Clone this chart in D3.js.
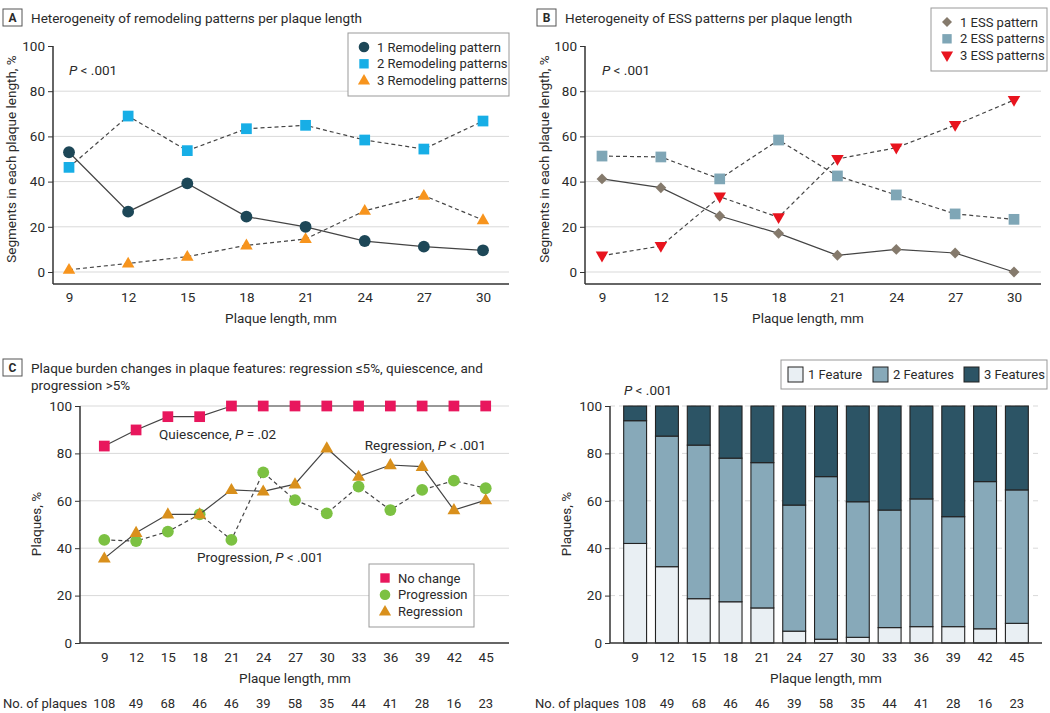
<!DOCTYPE html>
<html><head><meta charset="utf-8">
<script src="https://cdn.jsdelivr.net/npm/d3@7"></script>
<style>
body{margin:0;background:#fff;}
svg text{font-family:Roboto,"Noto Sans",sans-serif;fill:#2a2a2a;}
</style></head>
<body><svg id="c" width="1050" height="713"></svg>
<script>
// ---------- DATA ----------
const lengthsAB = [9,12,15,18,21,24,27,30];
const remod1 = [53,26.7,39.2,24.5,20,13.7,11.2,9.6];
const remod2 = [46.3,69,53.7,63.4,64.9,58.4,54.4,66.8];
const remod3 = [1,3.8,6.8,11.8,14.6,27.1,33.8,23];
const ess1 = [41.2,37.3,24.8,17.1,7.4,10,8.4,0];
const ess2 = [51.3,50.9,41.2,58.4,42.5,34.1,25.7,23.3];
const ess3 = [7.2,11.5,33.3,24.2,50,55,65,76.1];
const lengthsCD = [9,12,15,18,21,24,27,30,33,36,39,42,45];
const noChange = [83.1,89.9,95.5,95.5,100,100,100,100,100,100,100,100,100];
const progression = [43.5,43,47,54.3,43.5,72,60.3,54.7,66,56.1,64.6,68.5,65.3];
const regression = [35.7,46.5,54.3,54.3,64.6,64,67,82.2,70.2,75.1,74.4,56.1,60.3];
const feature1 = [42,32.2,18.7,17.4,14.8,5,1.6,2.4,6.5,6.9,6.9,6,8.3];
const feature2 = [51.8,55.1,64.8,60.6,61.3,53.2,68.6,57.2,49.6,53.9,46.4,62.1,56.3];
const feature3 = [6.2,12.7,16.5,22,23.9,41.8,29.8,40.4,43.9,39.2,46.7,31.9,35.4];
const nPlaques = [108,49,68,46,46,39,58,35,44,41,28,16,23];
const yTicks = [0,20,40,60,80,100];

const svg = d3.select("#c");
const FS = 13.5;
const LFS = 13;

function panelLabel(x,y,letter,lines){
  svg.append("rect").attr("x",x).attr("y",y).attr("width",19).attr("height",17)
    .attr("fill","#fff").attr("stroke","#555").attr("stroke-width",1);
  svg.append("text").attr("x",x+9.5).attr("y",y+13).attr("text-anchor","middle")
    .attr("font-size",12).attr("font-weight","bold").attr("fill","#222").text(letter);
  lines.forEach((l,i)=>svg.append("text").attr("x",x+28).attr("y",y+13.5+i*17)
    .attr("font-size",13.5).attr("fill","#222").text(l));
}

function symbolPath(type,size){
  return d3.symbol().type(type).size(size)();
}
function drawMarker(g,type,x,y,color,size){
  if(type==="circle"){ g.append("circle").attr("cx",x).attr("cy",y).attr("r",Math.sqrt(size/Math.PI)).attr("fill",color); return; }
  if(type==="square"){ const s=Math.sqrt(size); g.append("rect").attr("x",x-s/2).attr("y",y-s/2).attr("width",s).attr("height",s).attr("fill",color); return; }
  if(type==="triangle"){ g.append("path").attr("d",symbolPath(d3.symbolTriangle,size)).attr("transform",`translate(${x},${y+0.5})`).attr("fill",color); return; }
  if(type==="down"){ g.append("path").attr("d",symbolPath(d3.symbolTriangle,size)).attr("transform",`translate(${x},${y-0.5}) rotate(180)`).attr("fill",color); return; }
  if(type==="diamond"){ g.append("path").attr("d",symbolPath(d3.symbolDiamond2,size)).attr("transform",`translate(${x},${y})`).attr("fill",color); return; }
}

function yAxis(x0,x1,y,gridFrom,gridDash,top100grid){
  const g = svg.append("g");
  yTicks.forEach(t=>{
    if(t>=gridFrom && (t<100 || top100grid)){
      g.append("line").attr("x1",x0).attr("x2",x1).attr("y1",y(t)).attr("y2",y(t))
        .attr("stroke","#d9d9d9").attr("stroke-width",1).attr("stroke-dasharray",gridDash||null);
    }
  });
  const ax = svg.append("g").attr("transform",`translate(${x0},0)`)
    .call(d3.axisLeft(y).tickValues(yTicks).tickSize(5).tickPadding(3));
  ax.select(".domain").remove();
  ax.selectAll("line").attr("stroke","#333");
  ax.selectAll("text").attr("font-size",FS).attr("fill","#2a2a2a").style("font-family","Roboto,sans-serif");
  return ax;
}

function series(g,xs,vals,x,y,type,color,size,dashed){
  const line = d3.line().x((d,i)=>x(xs[i])).y(d=>y(d));
  g.append("path").attr("d",line(vals)).attr("fill","none").attr("stroke","#444")
    .attr("stroke-width",1.2).attr("stroke-dasharray",dashed?"4,3":null);
  vals.forEach((v,i)=>drawMarker(g,type,x(xs[i]),y(v),color,size));
}

function legendBox(x,y,w,h,items){
  svg.append("rect").attr("x",x).attr("y",y).attr("width",w).attr("height",h)
    .attr("fill","#fff").attr("stroke","#999").attr("stroke-width",1);
  const g=svg.append("g");
  items.forEach((it,i)=>{
    const cy = y+14+i*16.8;
    drawMarker(g,it.type,x+16,cy,it.color,it.size*0.8);
    g.append("text").attr("x",x+29).attr("y",cy+4.5).attr("font-size",LFS).attr("fill","#222").text(it.label);
  });
}

function pLabel(x,y,txt){
  const t=svg.append("text").attr("x",x).attr("y",y).attr("font-size",FS).attr("fill","#222");
  t.append("tspan").attr("font-style","italic").text("P");
  t.append("tspan").text(txt);
}

// ---------- PANEL A ----------
{
  panelLabel(3,9,"A",["Heterogeneity of remodeling patterns per plaque length"]);
  const x=d3.scaleLinear().domain([9,30]).range([69,483]);
  const y=d3.scaleLinear().domain([0,100]).range([272,46]);
  yAxis(53,509,y,0,null,false);
  svg.append("line").attr("x1",53).attr("x2",53).attr("y1",46).attr("y2",284).attr("stroke","#333").attr("stroke-width",1.5);
  const xa=svg.append("g").attr("transform","translate(0,284)").call(d3.axisBottom(x).tickValues(lengthsAB).tickSize(0).tickPadding(8));
  xa.select(".domain").attr("d","M53,0H509").attr("stroke","#333").attr("stroke-width",1.5);
  xa.selectAll("text").attr("font-size",FS).attr("fill","#2a2a2a");
  svg.append("text").attr("x",281).attr("y",323).attr("text-anchor","middle").attr("font-size",FS).text("Plaque length, mm");
  svg.append("text").attr("transform","translate(16,159) rotate(-90)").attr("text-anchor","middle").attr("font-size",FS).text("Segments in each plaque length, %");
  pLabel(69,75," < .001");
  const g=svg.append("g");
  series(g,lengthsAB,remod3,x,y,"triangle","#f7941d",68,true);
  series(g,lengthsAB,remod2,x,y,"square","#17aee6",115,true);
  series(g,lengthsAB,remod1,x,y,"circle","#1d4757",110,false);
  legendBox(348,33,161,63,[
    {type:"circle",color:"#1d4757",size:110,label:"1 Remodeling pattern"},
    {type:"square",color:"#17aee6",size:110,label:"2 Remodeling patterns"},
    {type:"triangle",color:"#f7941d",size:80,label:"3 Remodeling patterns"}]);
}

// ---------- PANEL B ----------
{
  panelLabel(537,9,"B",["Heterogeneity of ESS patterns per plaque length"]);
  const x=d3.scaleLinear().domain([9,30]).range([602,1014]);
  const y=d3.scaleLinear().domain([0,100]).range([272,46]);
  yAxis(585,1041,y,0,null,false);
  svg.append("line").attr("x1",585).attr("x2",585).attr("y1",46).attr("y2",284).attr("stroke","#333").attr("stroke-width",1.5);
  const xa=svg.append("g").attr("transform","translate(0,284)").call(d3.axisBottom(x).tickValues(lengthsAB).tickSize(0).tickPadding(8));
  xa.select(".domain").attr("d","M585,0H1041").attr("stroke","#333").attr("stroke-width",1.5);
  xa.selectAll("text").attr("font-size",FS).attr("fill","#2a2a2a");
  svg.append("text").attr("x",808).attr("y",323).attr("text-anchor","middle").attr("font-size",FS).text("Plaque length, mm");
  svg.append("text").attr("transform","translate(549,159) rotate(-90)").attr("text-anchor","middle").attr("font-size",FS).text("Segments in each plaque length, %");
  pLabel(602,75," < .001");
  const g=svg.append("g");
  series(g,lengthsAB,ess2,x,y,"square","#7fa6b6",115,true);
  series(g,lengthsAB,ess3,x,y,"down","#e8141e",68,true);
  series(g,lengthsAB,ess1,x,y,"diamond","#857a6c",75,false);
  legendBox(931,8,116,63,[
    {type:"diamond",color:"#857a6c",size:80,label:"1 ESS pattern"},
    {type:"square",color:"#7fa6b6",size:110,label:"2 ESS patterns"},
    {type:"down",color:"#e8141e",size:80,label:"3 ESS patterns"}]);
}

// ---------- PANEL C ----------
{
  panelLabel(3,359,"C",["Plaque burden changes in plaque features: regression \u22645%, quiescence, and","progression >5%"]);
  const x=d3.scaleLinear().domain([9,45]).range([104.3,485.7]);
  const y=d3.scaleLinear().domain([0,100]).range([643,406]);
  yAxis(80,509,y,20,null,true);
  svg.append("line").attr("x1",80).attr("x2",80).attr("y1",406).attr("y2",643).attr("stroke","#333").attr("stroke-width",1.5);
  const xa=svg.append("g").attr("transform","translate(0,643)").call(d3.axisBottom(x).tickValues(lengthsCD).tickSize(0).tickPadding(9));
  xa.select(".domain").attr("d","M80,0H509").attr("stroke","#333").attr("stroke-width",1.5);
  xa.selectAll("text").attr("font-size",FS).attr("fill","#2a2a2a");
  svg.append("text").attr("x",295).attr("y",683).attr("text-anchor","middle").attr("font-size",FS).text("Plaque length, mm");
  svg.append("text").attr("transform","translate(41,524) rotate(-90)").attr("text-anchor","middle").attr("font-size",FS).text("Plaques, %");
  svg.append("text").attr("x",3).attr("y",708).attr("font-size",13).text("No. of plaques");
  nPlaques.forEach((n,i)=>svg.append("text").attr("x",x(lengthsCD[i])).attr("y",708).attr("text-anchor","middle").attr("font-size",13).text(n));
  const g=svg.append("g");
  series(g,lengthsCD,progression,x,y,"circle","#7cc142",110,true);
  series(g,lengthsCD,regression,x,y,"triangle","#d9901c",72,false);
  series(g,lengthsCD,noChange,x,y,"square","#e8175d",115,false);
  const a1=svg.append("text").attr("x",159).attr("y",439).attr("font-size",FS);
  a1.append("tspan").text("Quiescence, "); a1.append("tspan").attr("font-style","italic").text("P"); a1.append("tspan").text(" = .02");
  const a2=svg.append("text").attr("x",486).attr("y",450).attr("text-anchor","end").attr("font-size",FS);
  a2.append("tspan").text("Regression, "); a2.append("tspan").attr("font-style","italic").text("P"); a2.append("tspan").text(" < .001");
  const a3=svg.append("text").attr("x",197).attr("y",562).attr("font-size",FS);
  a3.append("tspan").text("Progression, "); a3.append("tspan").attr("font-style","italic").text("P"); a3.append("tspan").text(" < .001");
  legendBox(369,564,105,63,[
    {type:"square",color:"#e8175d",size:110,label:"No change"},
    {type:"circle",color:"#7cc142",size:110,label:"Progression"},
    {type:"triangle",color:"#d9901c",size:80,label:"Regression"}]);
}

// ---------- PANEL D ----------
{
  const x=d3.scaleBand().domain(lengthsCD).range([610,1042]).paddingInner(0.28).paddingOuter(0.43);
  const y=d3.scaleLinear().domain([0,100]).range([643,406]);
  yAxis(610,1042,y,20,"5,4",true);
  const xa=svg.append("g").attr("transform","translate(0,643)").call(d3.axisBottom(x).tickSize(0).tickPadding(9));
  xa.select(".domain").remove();
  xa.selectAll("text").attr("font-size",FS).attr("fill","#2a2a2a");
  svg.append("text").attr("x",826).attr("y",683).attr("text-anchor","middle").attr("font-size",FS).text("Plaque length, mm");
  svg.append("text").attr("transform","translate(571,524) rotate(-90)").attr("text-anchor","middle").attr("font-size",FS).text("Plaques, %");
  svg.append("text").attr("x",535).attr("y",708).attr("font-size",13).text("No. of plaques");
  nPlaques.forEach((n,i)=>svg.append("text").attr("x",x(lengthsCD[i])+x.bandwidth()/2).attr("y",708).attr("text-anchor","middle").attr("font-size",13).text(n));
  pLabel(624,395," < .001");
  const keys=["f1","f2","f3"];
  const colors={f1:"#e9eff3",f2:"#87a9b9",f3:"#2c5465"};
  const rows=lengthsCD.map((l,i)=>({len:l,f1:feature1[i],f2:feature2[i],f3:feature3[i]}));
  const stack=d3.stack().keys(keys)(rows);
  const g=svg.append("g");
  stack.forEach(s=>{
    g.selectAll(null).data(s).enter().append("rect")
      .attr("x",d=>x(d.data.len)).attr("width",x.bandwidth())
      .attr("y",d=>y(d[1])).attr("height",d=>y(d[0])-y(d[1]))
      .attr("fill",colors[s.key]).attr("stroke","#222").attr("stroke-width",1.1);
  });
  svg.append("line").attr("x1",610).attr("x2",1042).attr("y1",643).attr("y2",643).attr("stroke","#333").attr("stroke-width",1.5);
  svg.append("line").attr("x1",610).attr("x2",610).attr("y1",406).attr("y2",643).attr("stroke","#333").attr("stroke-width",1.5);
  // legend
  svg.append("rect").attr("x",781).attr("y",360).attr("width",266).attr("height",29).attr("fill","#fff").attr("stroke","#999");
  const li=[{k:"f1",x:788,l:"1 Feature"},{k:"f2",x:873,l:"2 Features"},{k:"f3",x:964,l:"3 Features"}];
  li.forEach(d=>{
    svg.append("rect").attr("x",d.x).attr("y",367).attr("width",15).attr("height",15).attr("fill",colors[d.k]).attr("stroke","#222");
    svg.append("text").attr("x",d.x+20).attr("y",379).attr("font-size",LFS).attr("fill","#222").text(d.l);
  });
}
</script></body></html>
